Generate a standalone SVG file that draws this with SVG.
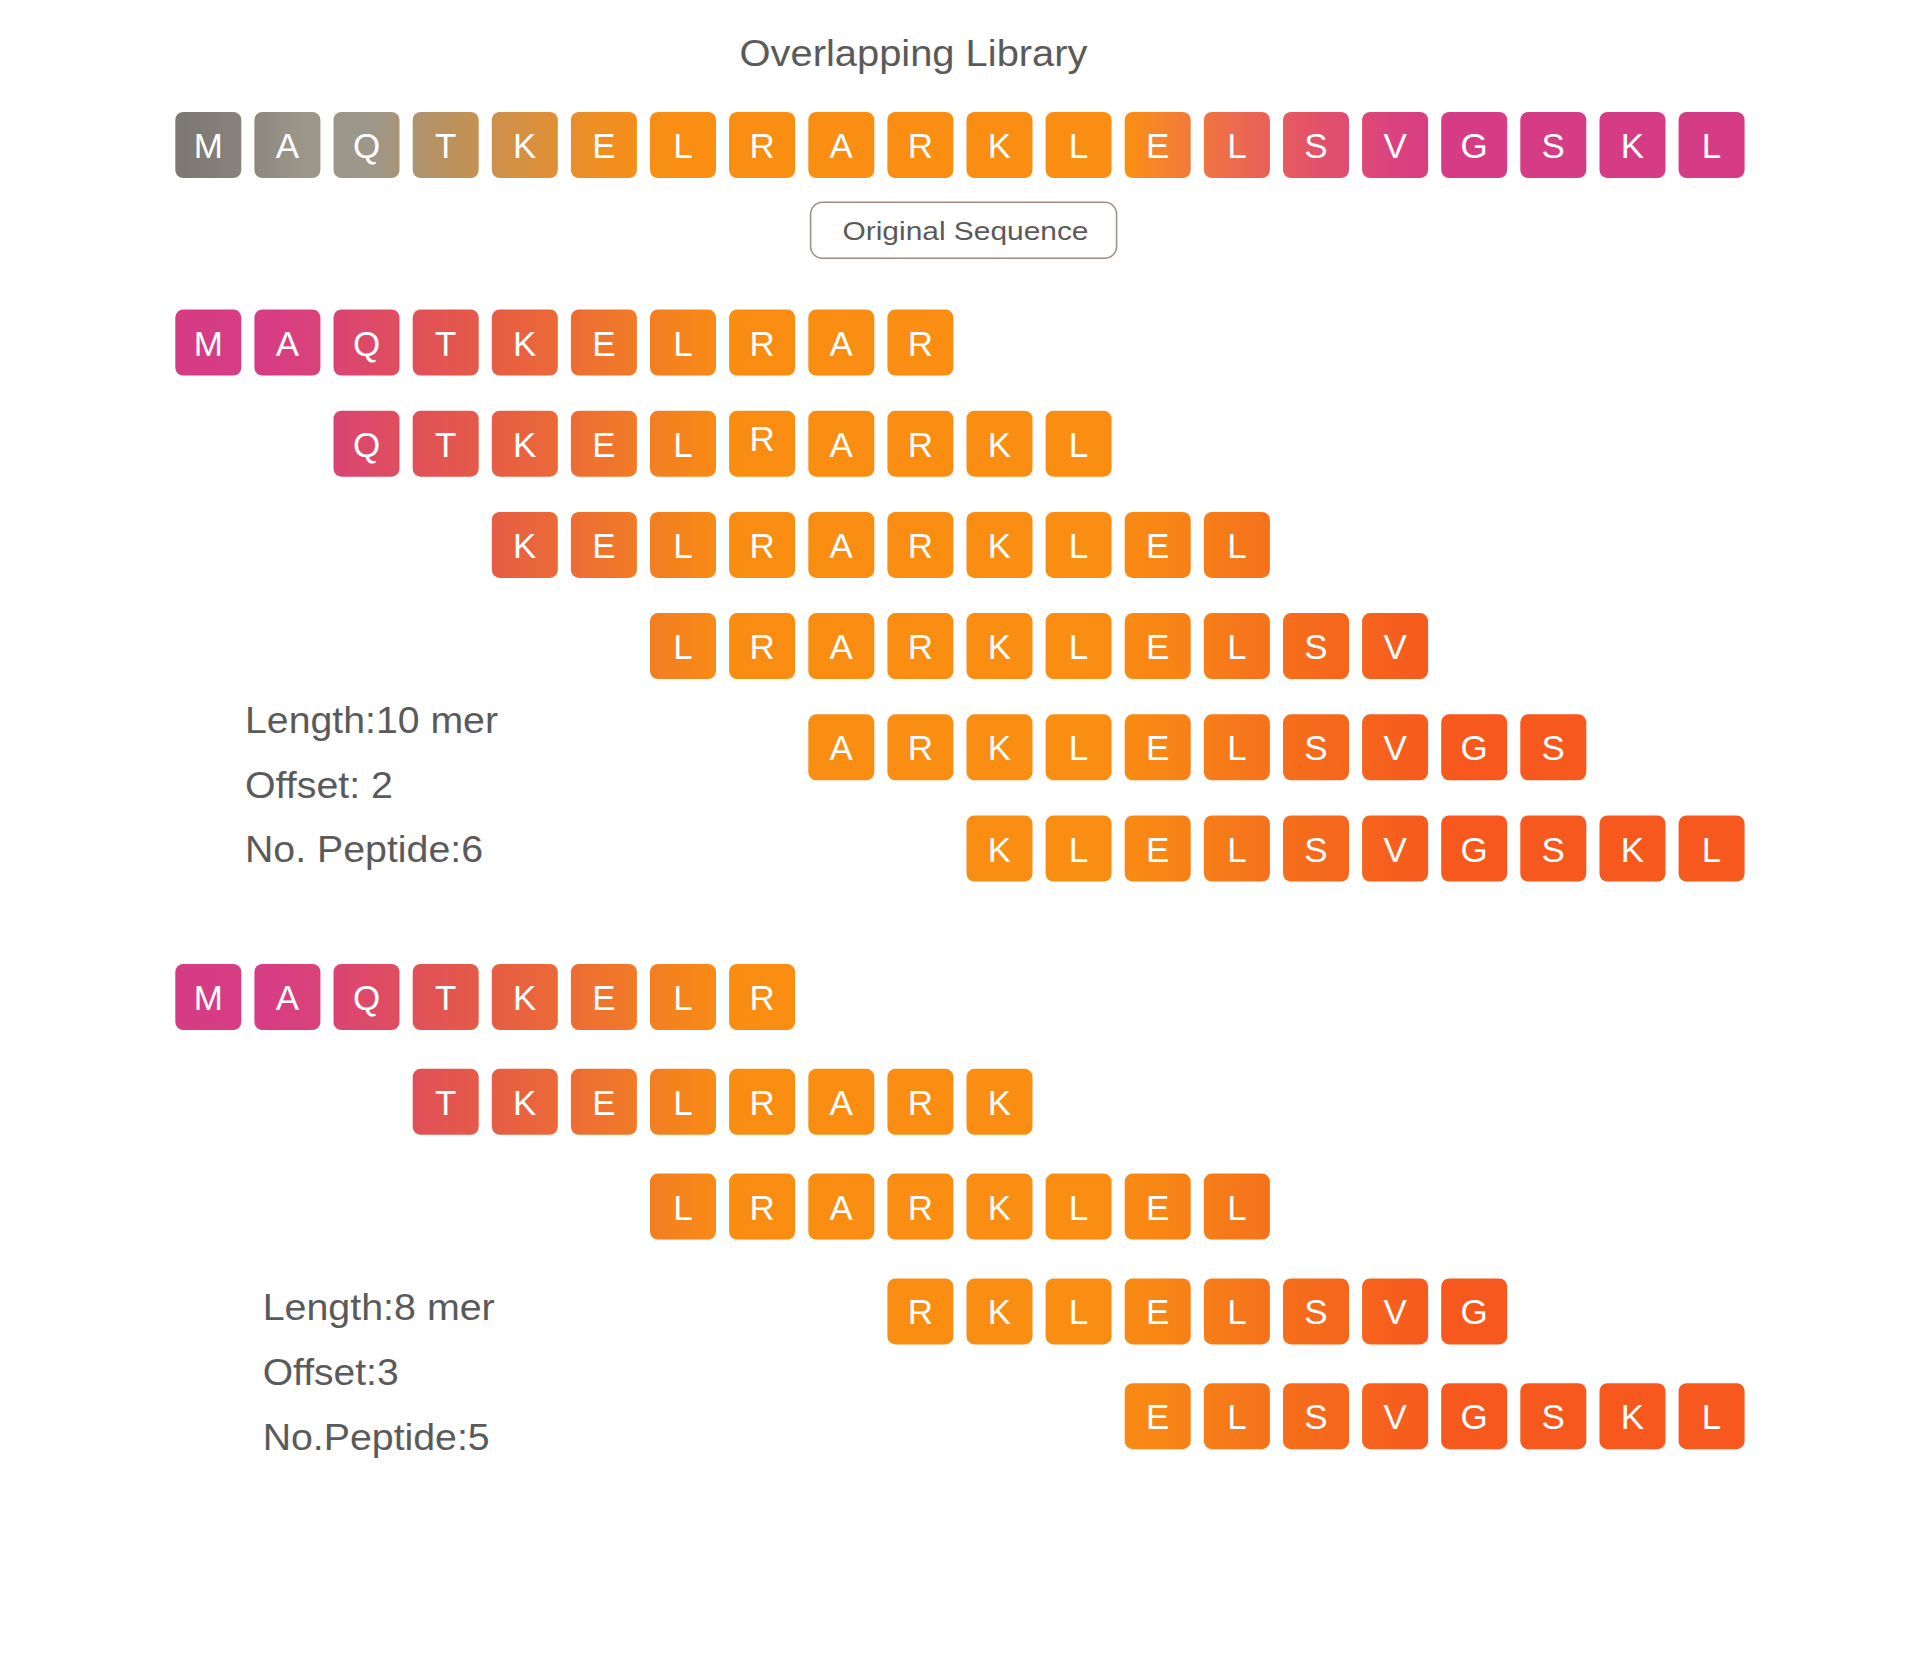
<svg xmlns="http://www.w3.org/2000/svg" width="1920" height="1663" viewBox="0 0 1920 1663">
<style>
.t{rx:8px;ry:8px}
.top{fill:url(#gTop)}
.pep{fill:url(#gPep)}
.l{font-family:"Liberation Sans",Arial,sans-serif;font-size:35px;fill:#ffffff;text-anchor:middle}
.lab{font-family:"Liberation Sans",Arial,sans-serif;fill:#5a5a5a}
</style>
<defs>
<linearGradient id="gTop" gradientUnits="userSpaceOnUse" x1="175" y1="0" x2="1745" y2="0">
<stop offset="0" stop-color="#7b7771"/>
<stop offset="0.042" stop-color="#88847c"/>
<stop offset="0.0796" stop-color="#9c968a"/>
<stop offset="0.124" stop-color="#9d978a"/>
<stop offset="0.175" stop-color="#bb915c"/>
<stop offset="0.226" stop-color="#d99040"/>
<stop offset="0.271" stop-color="#f08e20"/>
<stop offset="0.322" stop-color="#f98e12"/>
<stop offset="0.608" stop-color="#f98e12"/>
<stop offset="0.625" stop-color="#f6852a"/>
<stop offset="0.676" stop-color="#ec6a4f"/>
<stop offset="0.727" stop-color="#e2526a"/>
<stop offset="0.777" stop-color="#da427f"/>
<stop offset="0.809" stop-color="#d63c85"/>
<stop offset="1" stop-color="#d63c85"/>
</linearGradient>
<linearGradient id="gPep" gradientUnits="userSpaceOnUse" x1="175" y1="0" x2="1745" y2="0">
<stop offset="0" stop-color="#d63c85"/>
<stop offset="0.0605" stop-color="#d63d84"/>
<stop offset="0.0987" stop-color="#da4475"/>
<stop offset="0.151" stop-color="#e0505a"/>
<stop offset="0.201" stop-color="#e65c45"/>
<stop offset="0.2516" stop-color="#ec6c35"/>
<stop offset="0.3025" stop-color="#f27e23"/>
<stop offset="0.3529" stop-color="#f98d12"/>
<stop offset="0.589" stop-color="#f98e12"/>
<stop offset="0.627" stop-color="#f88614"/>
<stop offset="0.676" stop-color="#f6781a"/>
<stop offset="0.727" stop-color="#f56a1c"/>
<stop offset="0.777" stop-color="#f65f1d"/>
<stop offset="0.806" stop-color="#f7581e"/>
<stop offset="1" stop-color="#f7581e"/>
</linearGradient>
</defs>
<rect width="1920" height="1663" fill="#ffffff"/>
<g id="title"><text class="lab" x="913.5" y="66" font-size="36" text-anchor="middle" textLength="348" lengthAdjust="spacingAndGlyphs" fill="#555555">Overlapping Library</text></g>

<g id="original-sequence">
<g id="o0"><rect class="t top" x="175.3" y="112" width="66" height="66"/><text class="l" x="208.3" y="158">M</text></g>
<g id="o1"><rect class="t top" x="254.4" y="112" width="66" height="66"/><text class="l" x="287.4" y="158">A</text></g>
<g id="o2"><rect class="t top" x="333.5" y="112" width="66" height="66"/><text class="l" x="366.5" y="158">Q</text></g>
<g id="o3"><rect class="t top" x="412.7" y="112" width="66" height="66"/><text class="l" x="445.7" y="158">T</text></g>
<g id="o4"><rect class="t top" x="491.8" y="112" width="66" height="66"/><text class="l" x="524.8" y="158">K</text></g>
<g id="o5"><rect class="t top" x="570.9" y="112" width="66" height="66"/><text class="l" x="603.9" y="158">E</text></g>
<g id="o6"><rect class="t top" x="650.0" y="112" width="66" height="66"/><text class="l" x="683.0" y="158">L</text></g>
<g id="o7"><rect class="t top" x="729.1" y="112" width="66" height="66"/><text class="l" x="762.1" y="158">R</text></g>
<g id="o8"><rect class="t top" x="808.3" y="112" width="66" height="66"/><text class="l" x="841.3" y="158">A</text></g>
<g id="o9"><rect class="t top" x="887.4" y="112" width="66" height="66"/><text class="l" x="920.4" y="158">R</text></g>
<g id="o10"><rect class="t top" x="966.5" y="112" width="66" height="66"/><text class="l" x="999.5" y="158">K</text></g>
<g id="o11"><rect class="t top" x="1045.6" y="112" width="66" height="66"/><text class="l" x="1078.6" y="158">L</text></g>
<g id="o12"><rect class="t top" x="1124.7" y="112" width="66" height="66"/><text class="l" x="1157.7" y="158">E</text></g>
<g id="o13"><rect class="t top" x="1203.9" y="112" width="66" height="66"/><text class="l" x="1236.9" y="158">L</text></g>
<g id="o14"><rect class="t top" x="1283.0" y="112" width="66" height="66"/><text class="l" x="1316.0" y="158">S</text></g>
<g id="o15"><rect class="t top" x="1362.1" y="112" width="66" height="66"/><text class="l" x="1395.1" y="158">V</text></g>
<g id="o16"><rect class="t top" x="1441.2" y="112" width="66" height="66"/><text class="l" x="1474.2" y="158">G</text></g>
<g id="o17"><rect class="t top" x="1520.3" y="112" width="66" height="66"/><text class="l" x="1553.3" y="158">S</text></g>
<g id="o18"><rect class="t top" x="1599.5" y="112" width="66" height="66"/><text class="l" x="1632.5" y="158">K</text></g>
<g id="o19"><rect class="t top" x="1678.6" y="112" width="66" height="66"/><text class="l" x="1711.6" y="158">L</text></g>
</g>

<g id="original-sequence-label">
<rect x="810.6" y="202.3" width="306" height="56" rx="12" ry="12" fill="#ffffff" stroke="#9b8d82" stroke-width="1.5"/>
<text class="lab" x="842.5" y="240" font-size="26" textLength="246" lengthAdjust="spacingAndGlyphs" fill="#555555">Original Sequence</text>
</g>

<g id="library-10mer">
<g id="a1">
<g id="a1-0"><rect class="t pep" x="175.3" y="309.5" width="66" height="66"/><text class="l" x="208.3" y="355.5">M</text></g>
<g id="a1-1"><rect class="t pep" x="254.4" y="309.5" width="66" height="66"/><text class="l" x="287.4" y="355.5">A</text></g>
<g id="a1-2"><rect class="t pep" x="333.5" y="309.5" width="66" height="66"/><text class="l" x="366.5" y="355.5">Q</text></g>
<g id="a1-3"><rect class="t pep" x="412.7" y="309.5" width="66" height="66"/><text class="l" x="445.7" y="355.5">T</text></g>
<g id="a1-4"><rect class="t pep" x="491.8" y="309.5" width="66" height="66"/><text class="l" x="524.8" y="355.5">K</text></g>
<g id="a1-5"><rect class="t pep" x="570.9" y="309.5" width="66" height="66"/><text class="l" x="603.9" y="355.5">E</text></g>
<g id="a1-6"><rect class="t pep" x="650.0" y="309.5" width="66" height="66"/><text class="l" x="683.0" y="355.5">L</text></g>
<g id="a1-7"><rect class="t pep" x="729.1" y="309.5" width="66" height="66"/><text class="l" x="762.1" y="355.5">R</text></g>
<g id="a1-8"><rect class="t pep" x="808.3" y="309.5" width="66" height="66"/><text class="l" x="841.3" y="355.5">A</text></g>
<g id="a1-9"><rect class="t pep" x="887.4" y="309.5" width="66" height="66"/><text class="l" x="920.4" y="355.5">R</text></g>
</g>
<g id="a2">
<g id="a2-2"><rect class="t pep" x="333.5" y="410.7" width="66" height="66"/><text class="l" x="366.5" y="456.7">Q</text></g>
<g id="a2-3"><rect class="t pep" x="412.7" y="410.7" width="66" height="66"/><text class="l" x="445.7" y="456.7">T</text></g>
<g id="a2-4"><rect class="t pep" x="491.8" y="410.7" width="66" height="66"/><text class="l" x="524.8" y="456.7">K</text></g>
<g id="a2-5"><rect class="t pep" x="570.9" y="410.7" width="66" height="66"/><text class="l" x="603.9" y="456.7">E</text></g>
<g id="a2-6"><rect class="t pep" x="650.0" y="410.7" width="66" height="66"/><text class="l" x="683.0" y="456.7">L</text></g>
<g id="a2-7"><rect class="t pep" x="729.1" y="410.7" width="66" height="66"/><text class="l" x="762.1" y="451.2">R</text></g>
<g id="a2-8"><rect class="t pep" x="808.3" y="410.7" width="66" height="66"/><text class="l" x="841.3" y="456.7">A</text></g>
<g id="a2-9"><rect class="t pep" x="887.4" y="410.7" width="66" height="66"/><text class="l" x="920.4" y="456.7">R</text></g>
<g id="a2-10"><rect class="t pep" x="966.5" y="410.7" width="66" height="66"/><text class="l" x="999.5" y="456.7">K</text></g>
<g id="a2-11"><rect class="t pep" x="1045.6" y="410.7" width="66" height="66"/><text class="l" x="1078.6" y="456.7">L</text></g>
</g>
<g id="a3">
<g id="a3-4"><rect class="t pep" x="491.8" y="511.9" width="66" height="66"/><text class="l" x="524.8" y="557.9">K</text></g>
<g id="a3-5"><rect class="t pep" x="570.9" y="511.9" width="66" height="66"/><text class="l" x="603.9" y="557.9">E</text></g>
<g id="a3-6"><rect class="t pep" x="650.0" y="511.9" width="66" height="66"/><text class="l" x="683.0" y="557.9">L</text></g>
<g id="a3-7"><rect class="t pep" x="729.1" y="511.9" width="66" height="66"/><text class="l" x="762.1" y="557.9">R</text></g>
<g id="a3-8"><rect class="t pep" x="808.3" y="511.9" width="66" height="66"/><text class="l" x="841.3" y="557.9">A</text></g>
<g id="a3-9"><rect class="t pep" x="887.4" y="511.9" width="66" height="66"/><text class="l" x="920.4" y="557.9">R</text></g>
<g id="a3-10"><rect class="t pep" x="966.5" y="511.9" width="66" height="66"/><text class="l" x="999.5" y="557.9">K</text></g>
<g id="a3-11"><rect class="t pep" x="1045.6" y="511.9" width="66" height="66"/><text class="l" x="1078.6" y="557.9">L</text></g>
<g id="a3-12"><rect class="t pep" x="1124.7" y="511.9" width="66" height="66"/><text class="l" x="1157.7" y="557.9">E</text></g>
<g id="a3-13"><rect class="t pep" x="1203.9" y="511.9" width="66" height="66"/><text class="l" x="1236.9" y="557.9">L</text></g>
</g>
<g id="a4">
<g id="a4-6"><rect class="t pep" x="650.0" y="613.1" width="66" height="66"/><text class="l" x="683.0" y="659.1">L</text></g>
<g id="a4-7"><rect class="t pep" x="729.1" y="613.1" width="66" height="66"/><text class="l" x="762.1" y="659.1">R</text></g>
<g id="a4-8"><rect class="t pep" x="808.3" y="613.1" width="66" height="66"/><text class="l" x="841.3" y="659.1">A</text></g>
<g id="a4-9"><rect class="t pep" x="887.4" y="613.1" width="66" height="66"/><text class="l" x="920.4" y="659.1">R</text></g>
<g id="a4-10"><rect class="t pep" x="966.5" y="613.1" width="66" height="66"/><text class="l" x="999.5" y="659.1">K</text></g>
<g id="a4-11"><rect class="t pep" x="1045.6" y="613.1" width="66" height="66"/><text class="l" x="1078.6" y="659.1">L</text></g>
<g id="a4-12"><rect class="t pep" x="1124.7" y="613.1" width="66" height="66"/><text class="l" x="1157.7" y="659.1">E</text></g>
<g id="a4-13"><rect class="t pep" x="1203.9" y="613.1" width="66" height="66"/><text class="l" x="1236.9" y="659.1">L</text></g>
<g id="a4-14"><rect class="t pep" x="1283.0" y="613.1" width="66" height="66"/><text class="l" x="1316.0" y="659.1">S</text></g>
<g id="a4-15"><rect class="t pep" x="1362.1" y="613.1" width="66" height="66"/><text class="l" x="1395.1" y="659.1">V</text></g>
</g>
<g id="a5">
<g id="a5-8"><rect class="t pep" x="808.3" y="714.3" width="66" height="66"/><text class="l" x="841.3" y="760.3">A</text></g>
<g id="a5-9"><rect class="t pep" x="887.4" y="714.3" width="66" height="66"/><text class="l" x="920.4" y="760.3">R</text></g>
<g id="a5-10"><rect class="t pep" x="966.5" y="714.3" width="66" height="66"/><text class="l" x="999.5" y="760.3">K</text></g>
<g id="a5-11"><rect class="t pep" x="1045.6" y="714.3" width="66" height="66"/><text class="l" x="1078.6" y="760.3">L</text></g>
<g id="a5-12"><rect class="t pep" x="1124.7" y="714.3" width="66" height="66"/><text class="l" x="1157.7" y="760.3">E</text></g>
<g id="a5-13"><rect class="t pep" x="1203.9" y="714.3" width="66" height="66"/><text class="l" x="1236.9" y="760.3">L</text></g>
<g id="a5-14"><rect class="t pep" x="1283.0" y="714.3" width="66" height="66"/><text class="l" x="1316.0" y="760.3">S</text></g>
<g id="a5-15"><rect class="t pep" x="1362.1" y="714.3" width="66" height="66"/><text class="l" x="1395.1" y="760.3">V</text></g>
<g id="a5-16"><rect class="t pep" x="1441.2" y="714.3" width="66" height="66"/><text class="l" x="1474.2" y="760.3">G</text></g>
<g id="a5-17"><rect class="t pep" x="1520.3" y="714.3" width="66" height="66"/><text class="l" x="1553.3" y="760.3">S</text></g>
</g>
<g id="a6">
<g id="a6-10"><rect class="t pep" x="966.5" y="815.5" width="66" height="66"/><text class="l" x="999.5" y="861.5">K</text></g>
<g id="a6-11"><rect class="t pep" x="1045.6" y="815.5" width="66" height="66"/><text class="l" x="1078.6" y="861.5">L</text></g>
<g id="a6-12"><rect class="t pep" x="1124.7" y="815.5" width="66" height="66"/><text class="l" x="1157.7" y="861.5">E</text></g>
<g id="a6-13"><rect class="t pep" x="1203.9" y="815.5" width="66" height="66"/><text class="l" x="1236.9" y="861.5">L</text></g>
<g id="a6-14"><rect class="t pep" x="1283.0" y="815.5" width="66" height="66"/><text class="l" x="1316.0" y="861.5">S</text></g>
<g id="a6-15"><rect class="t pep" x="1362.1" y="815.5" width="66" height="66"/><text class="l" x="1395.1" y="861.5">V</text></g>
<g id="a6-16"><rect class="t pep" x="1441.2" y="815.5" width="66" height="66"/><text class="l" x="1474.2" y="861.5">G</text></g>
<g id="a6-17"><rect class="t pep" x="1520.3" y="815.5" width="66" height="66"/><text class="l" x="1553.3" y="861.5">S</text></g>
<g id="a6-18"><rect class="t pep" x="1599.5" y="815.5" width="66" height="66"/><text class="l" x="1632.5" y="861.5">K</text></g>
<g id="a6-19"><rect class="t pep" x="1678.6" y="815.5" width="66" height="66"/><text class="l" x="1711.6" y="861.5">L</text></g>
</g>
<g id="a-info">
<text class="lab" x="245" y="733" font-size="36" textLength="253" lengthAdjust="spacingAndGlyphs">Length:10 mer</text>
<text class="lab" x="245" y="798" font-size="36" textLength="148" lengthAdjust="spacingAndGlyphs">Offset: 2</text>
<text class="lab" x="245" y="862" font-size="36" textLength="238" lengthAdjust="spacingAndGlyphs">No. Peptide:6</text>
</g>
</g>

<g id="library-8mer">
<g id="b1">
<g id="b1-0"><rect class="t pep" x="175.3" y="964" width="66" height="66"/><text class="l" x="208.3" y="1010">M</text></g>
<g id="b1-1"><rect class="t pep" x="254.4" y="964" width="66" height="66"/><text class="l" x="287.4" y="1010">A</text></g>
<g id="b1-2"><rect class="t pep" x="333.5" y="964" width="66" height="66"/><text class="l" x="366.5" y="1010">Q</text></g>
<g id="b1-3"><rect class="t pep" x="412.7" y="964" width="66" height="66"/><text class="l" x="445.7" y="1010">T</text></g>
<g id="b1-4"><rect class="t pep" x="491.8" y="964" width="66" height="66"/><text class="l" x="524.8" y="1010">K</text></g>
<g id="b1-5"><rect class="t pep" x="570.9" y="964" width="66" height="66"/><text class="l" x="603.9" y="1010">E</text></g>
<g id="b1-6"><rect class="t pep" x="650.0" y="964" width="66" height="66"/><text class="l" x="683.0" y="1010">L</text></g>
<g id="b1-7"><rect class="t pep" x="729.1" y="964" width="66" height="66"/><text class="l" x="762.1" y="1010">R</text></g>
</g>
<g id="b2">
<g id="b2-3"><rect class="t pep" x="412.7" y="1068.8" width="66" height="66"/><text class="l" x="445.7" y="1114.8">T</text></g>
<g id="b2-4"><rect class="t pep" x="491.8" y="1068.8" width="66" height="66"/><text class="l" x="524.8" y="1114.8">K</text></g>
<g id="b2-5"><rect class="t pep" x="570.9" y="1068.8" width="66" height="66"/><text class="l" x="603.9" y="1114.8">E</text></g>
<g id="b2-6"><rect class="t pep" x="650.0" y="1068.8" width="66" height="66"/><text class="l" x="683.0" y="1114.8">L</text></g>
<g id="b2-7"><rect class="t pep" x="729.1" y="1068.8" width="66" height="66"/><text class="l" x="762.1" y="1114.8">R</text></g>
<g id="b2-8"><rect class="t pep" x="808.3" y="1068.8" width="66" height="66"/><text class="l" x="841.3" y="1114.8">A</text></g>
<g id="b2-9"><rect class="t pep" x="887.4" y="1068.8" width="66" height="66"/><text class="l" x="920.4" y="1114.8">R</text></g>
<g id="b2-10"><rect class="t pep" x="966.5" y="1068.8" width="66" height="66"/><text class="l" x="999.5" y="1114.8">K</text></g>
</g>
<g id="b3">
<g id="b3-6"><rect class="t pep" x="650.0" y="1173.6" width="66" height="66"/><text class="l" x="683.0" y="1219.6">L</text></g>
<g id="b3-7"><rect class="t pep" x="729.1" y="1173.6" width="66" height="66"/><text class="l" x="762.1" y="1219.6">R</text></g>
<g id="b3-8"><rect class="t pep" x="808.3" y="1173.6" width="66" height="66"/><text class="l" x="841.3" y="1219.6">A</text></g>
<g id="b3-9"><rect class="t pep" x="887.4" y="1173.6" width="66" height="66"/><text class="l" x="920.4" y="1219.6">R</text></g>
<g id="b3-10"><rect class="t pep" x="966.5" y="1173.6" width="66" height="66"/><text class="l" x="999.5" y="1219.6">K</text></g>
<g id="b3-11"><rect class="t pep" x="1045.6" y="1173.6" width="66" height="66"/><text class="l" x="1078.6" y="1219.6">L</text></g>
<g id="b3-12"><rect class="t pep" x="1124.7" y="1173.6" width="66" height="66"/><text class="l" x="1157.7" y="1219.6">E</text></g>
<g id="b3-13"><rect class="t pep" x="1203.9" y="1173.6" width="66" height="66"/><text class="l" x="1236.9" y="1219.6">L</text></g>
</g>
<g id="b4">
<g id="b4-9"><rect class="t pep" x="887.4" y="1278.4" width="66" height="66"/><text class="l" x="920.4" y="1324.4">R</text></g>
<g id="b4-10"><rect class="t pep" x="966.5" y="1278.4" width="66" height="66"/><text class="l" x="999.5" y="1324.4">K</text></g>
<g id="b4-11"><rect class="t pep" x="1045.6" y="1278.4" width="66" height="66"/><text class="l" x="1078.6" y="1324.4">L</text></g>
<g id="b4-12"><rect class="t pep" x="1124.7" y="1278.4" width="66" height="66"/><text class="l" x="1157.7" y="1324.4">E</text></g>
<g id="b4-13"><rect class="t pep" x="1203.9" y="1278.4" width="66" height="66"/><text class="l" x="1236.9" y="1324.4">L</text></g>
<g id="b4-14"><rect class="t pep" x="1283.0" y="1278.4" width="66" height="66"/><text class="l" x="1316.0" y="1324.4">S</text></g>
<g id="b4-15"><rect class="t pep" x="1362.1" y="1278.4" width="66" height="66"/><text class="l" x="1395.1" y="1324.4">V</text></g>
<g id="b4-16"><rect class="t pep" x="1441.2" y="1278.4" width="66" height="66"/><text class="l" x="1474.2" y="1324.4">G</text></g>
</g>
<g id="b5">
<g id="b5-12"><rect class="t pep" x="1124.7" y="1383.2" width="66" height="66"/><text class="l" x="1157.7" y="1429.2">E</text></g>
<g id="b5-13"><rect class="t pep" x="1203.9" y="1383.2" width="66" height="66"/><text class="l" x="1236.9" y="1429.2">L</text></g>
<g id="b5-14"><rect class="t pep" x="1283.0" y="1383.2" width="66" height="66"/><text class="l" x="1316.0" y="1429.2">S</text></g>
<g id="b5-15"><rect class="t pep" x="1362.1" y="1383.2" width="66" height="66"/><text class="l" x="1395.1" y="1429.2">V</text></g>
<g id="b5-16"><rect class="t pep" x="1441.2" y="1383.2" width="66" height="66"/><text class="l" x="1474.2" y="1429.2">G</text></g>
<g id="b5-17"><rect class="t pep" x="1520.3" y="1383.2" width="66" height="66"/><text class="l" x="1553.3" y="1429.2">S</text></g>
<g id="b5-18"><rect class="t pep" x="1599.5" y="1383.2" width="66" height="66"/><text class="l" x="1632.5" y="1429.2">K</text></g>
<g id="b5-19"><rect class="t pep" x="1678.6" y="1383.2" width="66" height="66"/><text class="l" x="1711.6" y="1429.2">L</text></g>
</g>
<g id="b-info">
<text class="lab" x="262.7" y="1320" font-size="37" textLength="232" lengthAdjust="spacingAndGlyphs">Length:8 mer</text>
<text class="lab" x="262.7" y="1385" font-size="37" textLength="136" lengthAdjust="spacingAndGlyphs">Offset:3</text>
<text class="lab" x="262.7" y="1450" font-size="37" textLength="227" lengthAdjust="spacingAndGlyphs">No.Peptide:5</text>
</g>
</g>
<g id="connectors"/>
</svg>
